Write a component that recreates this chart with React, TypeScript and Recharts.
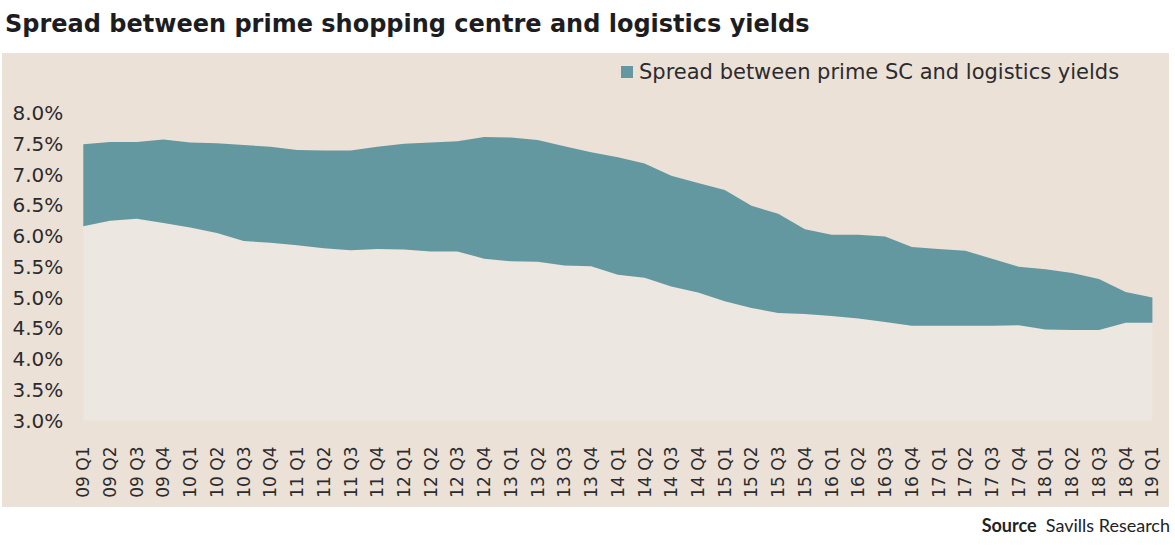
import React from "react";
import { AreaChart, Area, XAxis, YAxis, Legend } from "recharts";

const QUARTERS = [
  "09 Q1", "09 Q2", "09 Q3", "09 Q4",
  "10 Q1", "10 Q2", "10 Q3", "10 Q4",
  "11 Q1", "11 Q2", "11 Q3", "11 Q4",
  "12 Q1", "12 Q2", "12 Q3", "12 Q4",
  "13 Q1", "13 Q2", "13 Q3", "13 Q4",
  "14 Q1", "14 Q2", "14 Q3", "14 Q4",
  "15 Q1", "15 Q2", "15 Q3", "15 Q4",
  "16 Q1", "16 Q2", "16 Q3", "16 Q4",
  "17 Q1", "17 Q2", "17 Q3", "17 Q4",
  "18 Q1", "18 Q2", "18 Q3", "18 Q4",
  "19 Q1",
];

// prime shopping centre yield (upper edge of band)
const SC_YIELD = [
  7.49, 7.53, 7.53, 7.57, 7.52, 7.51, 7.48, 7.45, 7.4, 7.39, 7.39, 7.45,
  7.5, 7.52, 7.54, 7.61, 7.6, 7.56, 7.46, 7.36, 7.28, 7.18, 6.98, 6.86,
  6.75, 6.49, 6.36, 6.11, 6.02, 6.02, 5.99, 5.82, 5.79, 5.76, 5.63, 5.5,
  5.46, 5.4, 5.3, 5.09, 5.0,
];

// prime logistics yield (lower edge of band)
const LOGISTICS_YIELD = [
  6.16, 6.25, 6.28, 6.21, 6.14, 6.05, 5.92, 5.89, 5.85, 5.8, 5.77, 5.79,
  5.78, 5.75, 5.75, 5.63, 5.59, 5.58, 5.52, 5.51, 5.37, 5.32, 5.18, 5.08,
  4.94, 4.83, 4.75, 4.73, 4.7, 4.66, 4.6, 4.54, 4.54, 4.54, 4.54, 4.55,
  4.48, 4.47, 4.47, 4.59, 4.59,
];

const Y_TICKS = [3.0, 3.5, 4.0, 4.5, 5.0, 5.5, 6.0, 6.5, 7.0, 7.5, 8.0];

const TEAL = "#6498a1";
const PANEL = "#ebe1d7";
const INNER = "#ede7e1";
const TEXT = "#2b2b2e";
const FONT = "'DejaVu Sans', sans-serif";

const data = QUARTERS.map((q, i) => ({
  quarter: q,
  high: SC_YIELD[i],
  low: LOGISTICS_YIELD[i],
}));

function QuarterTick(props: any) {
  const { x, y, payload } = props;
  return (
    <text
      x={x}
      y={y + 18}
      transform={`rotate(-90, ${x}, ${y + 18})`}
      textAnchor="end"
      dominantBaseline="central"
      fontSize={17}
      fontFamily={FONT}
      fill={TEXT}
    >
      {payload.value}
    </text>
  );
}

function LegendContent() {
  return (
    <div style={{ display: "flex", alignItems: "center", fontFamily: FONT }}>
      <span
        style={{ width: 12, height: 12, background: TEAL, marginRight: 6 }}
      />
      <span style={{ fontSize: 21, color: TEXT, lineHeight: "24px" }}>
        Spread between prime SC and logistics yields
      </span>
    </div>
  );
}

export default function App() {
  return (
    <div
      style={{
        position: "absolute",
        left: 0,
        top: 0,
        width: 1175,
        height: 549,
        background: "#fff",
        fontFamily: FONT,
      }}
    >
      <div
        style={{
          position: "absolute",
          left: 5,
          top: 9,
          fontSize: 24,
          lineHeight: "30px",
          fontWeight: 700,
          color: "#1d1d1f",
          whiteSpace: "nowrap",
        }}
      >
        Spread between prime shopping centre and logistics yields
      </div>
      <div
        style={{
          position: "absolute",
          left: 2,
          top: 53,
          width: 1167,
          height: 454,
          background: PANEL,
        }}
      />
      <div style={{ position: "absolute", left: 0, top: 0 }}>
        <AreaChart
          width={1175}
          height={549}
          data={data}
          margin={{ top: 113, right: 22.6, bottom: 48.5, left: 0 }}
        >
          <XAxis
            dataKey="quarter"
            interval={0}
            height={80}
            axisLine={false}
            tickLine={false}
            padding={{ left: 0, right: 0 }}
            tick={<QuarterTick />}
          />
          <YAxis
            domain={[3, 8]}
            ticks={Y_TICKS}
            width={83.3}
            axisLine={false}
            tickLine={false}
            tickSize={0}
            tickMargin={20}
            tickFormatter={(v: number) => `${v.toFixed(1)}%`}
            tick={{ fontSize: 20, fill: TEXT, fontFamily: FONT }}
          />
          <Legend
            verticalAlign="middle"
            layout="horizontal"
            content={<LegendContent />}
            wrapperStyle={{ position: "absolute", left: 621, top: 60, width: "auto" }}
          />
          <Area
            type="linear"
            dataKey="low"
            stroke="none"
            fill={INNER}
            fillOpacity={1}
            legendType="none"
            isAnimationActive={false}
          />
          <Area
            type="linear"
            dataKey={(d: any) => [d.low, d.high]}
            name="Spread between prime SC and logistics yields"
            stroke="none"
            fill={TEAL}
            fillOpacity={1}
            isAnimationActive={false}
          />
        </AreaChart>
      </div>
      <div
        style={{
          position: "absolute",
          right: 5,
          top: 514,
          fontSize: 18,
          fontFamily: "Lato, sans-serif",
          color: "#222",
          whiteSpace: "nowrap",
        }}
      >
        <span style={{ fontWeight: 700 }}>Source</span>&nbsp; Savills Research
      </div>
    </div>
  );
}
